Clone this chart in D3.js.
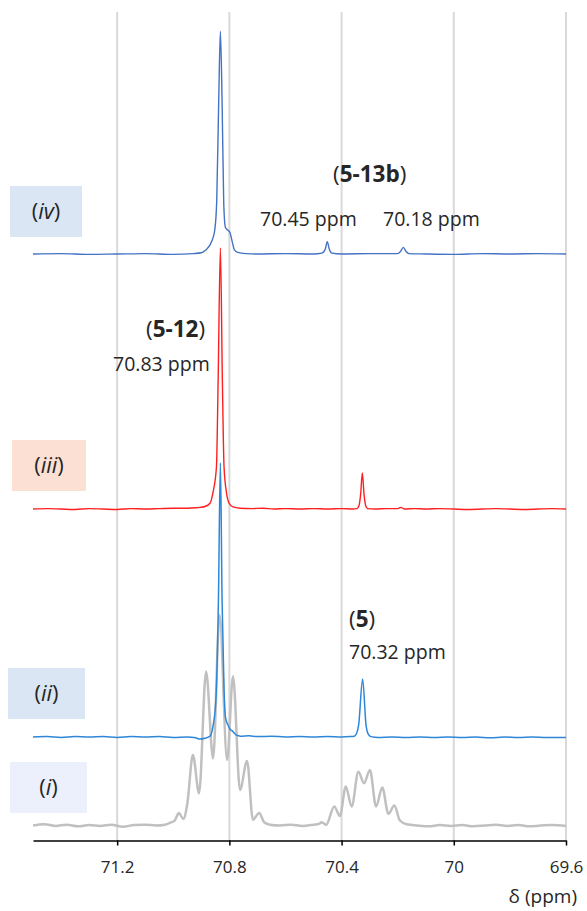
<!DOCTYPE html>
<html>
<head>
<meta charset="utf-8">
<script src="https://cdn.jsdelivr.net/npm/d3@7"></script>
<style>
  body { margin: 0; background: #fff; }
  text { font-family: "Open Sans", sans-serif; fill: #262626; }
</style>
</head>
<body>
<div id="chart"></div>
<script>
  // x axis ticks (ppm)
  const ticks = [71.2, 70.8, 70.4, 70, 69.6];

  // spectra: [ppm, intensity], intensity relative to own baseline
  const specI = [
    [71.50, 0.0], [71.46, 0.15], [71.42, -0.05], [71.38, 0.1], [71.34, -0.1], [71.30, 0.05],
    [71.26, -0.05], [71.22, 0.1], [71.18, -0.15], [71.14, 0.05], [71.10, 0.1], [71.06, 0.0],
    [71.03, 0.1], [71.01, 0.35], [70.995, 0.6], [70.98, 1.5], [70.964, 0.8], [70.95, 2.6],
    [70.93, 8.5], [70.908, 3.9], [70.883, 18.6], [70.858, 8.1], [70.835, 25.4], [70.808, 7.9],
    [70.787, 18.0], [70.762, 4.3], [70.737, 7.8], [70.716, 0.7], [70.694, 1.5], [70.676, 0.4],
    [70.655, 0.1], [70.62, 0.0], [70.58, 0.1], [70.54, -0.05], [70.50, 0.1], [70.48, 0.2],
    [70.471, 0.4], [70.455, 0.1], [70.426, 2.3], [70.406, 1.15], [70.385, 4.7], [70.364, 2.3],
    [70.340, 6.5], [70.320, 5.1], [70.299, 6.7], [70.277, 2.3], [70.255, 4.6], [70.233, 1.4],
    [70.212, 2.4], [70.192, 0.6], [70.168, 0.15], [70.13, 0.0], [70.09, -0.1], [70.05, 0.05],
    [70.01, -0.05], [69.97, 0.05], [69.93, -0.1], [69.89, 0.0], [69.85, 0.1], [69.81, -0.05],
    [69.77, 0.05], [69.73, -0.1], [69.69, 0.0], [69.65, 0.05], [69.60, -0.05]
  ];

  const specII = [
    [71.50, 0.0], [71.45, 0.05], [71.40, -0.05], [71.35, 0.05], [71.30, 0.0], [71.25, 0.05],
    [71.20, -0.05], [71.15, 0.05], [71.10, 0.0], [71.05, 0.05], [71.00, -0.05], [70.95, 0.0],
    [70.92, -0.1], [70.905, -0.25], [70.887, -0.15], [70.869, 0.1], [70.859, 1.2], [70.848, 4.5],
    [70.839, 16.5], [70.832, 33.1], [70.826, 16.5], [70.819, 5.7], [70.814, 2.4], [70.805, 1.45],
    [70.797, 0.9], [70.790, 0.75], [70.783, 0.5], [70.776, 0.25], [70.76, 0.1], [70.73, 0.15],
    [70.70, 0.05], [70.65, 0.1], [70.60, 0.0], [70.55, 0.05], [70.50, 0.0], [70.45, 0.05],
    [70.40, 0.0], [70.37, 0.05], [70.355, 0.1], [70.347, 0.4], [70.339, 1.5], [70.325, 7.0],
    [70.313, 1.5], [70.305, 0.35], [70.295, 0.05], [70.27, -0.05], [70.22, 0.0], [70.17, -0.05],
    [70.12, 0.0], [70.07, -0.05], [70.02, 0.0], [69.97, -0.05], [69.92, 0.0], [69.87, -0.1],
    [69.82, 0.0], [69.77, -0.05], [69.72, 0.0], [69.67, -0.05], [69.60, -0.05]
  ];

  const specIII = [
    [71.50, 0.0], [71.45, 0.05], [71.40, 0.0], [71.35, -0.05], [71.30, 0.05], [71.25, 0.0],
    [71.20, -0.05], [71.15, 0.05], [71.10, 0.0], [71.05, 0.05], [71.00, 0.1], [70.95, 0.1],
    [70.92, 0.15], [70.905, 0.2], [70.887, 0.3], [70.869, 0.7], [70.859, 1.9], [70.846, 5.1],
    [70.840, 15.6], [70.832, 31.5], [70.825, 15.6], [70.819, 5.1], [70.810, 1.9], [70.801, 0.7],
    [70.787, 0.25], [70.762, 0.1], [70.72, 0.05], [70.68, 0.1], [70.64, 0.0], [70.60, 0.05],
    [70.55, 0.0], [70.50, 0.05], [70.45, 0.0], [70.40, 0.05], [70.36, 0.0], [70.345, 0.05],
    [70.338, 0.4], [70.332, 1.8], [70.326, 4.35], [70.320, 1.8], [70.314, 0.4], [70.307, 0.05],
    [70.28, 0.0], [70.24, 0.05], [70.20, 0.05], [70.188, 0.2], [70.176, 0.0], [70.14, 0.05],
    [70.10, 0.0], [70.05, 0.05], [70.00, 0.0], [69.95, -0.05], [69.90, 0.0], [69.85, 0.05],
    [69.80, 0.0], [69.75, -0.05], [69.70, 0.0], [69.65, 0.05], [69.60, 0.0]
  ];

  const specIV = [
    [71.50, 0.0], [71.40, 0.05], [71.30, -0.05], [71.20, 0.0], [71.10, 0.05], [71.00, -0.05],
    [70.93, 0.05], [70.90, 0.15], [70.885, 0.45], [70.862, 1.6], [70.852, 2.9], [70.845, 6.5],
    [70.838, 18.5], [70.832, 26.9], [70.826, 18.5], [70.82, 6.0], [70.814, 3.2], [70.806, 2.9],
    [70.798, 2.6], [70.79, 1.5], [70.782, 0.5], [70.77, 0.2], [70.74, 0.05], [70.70, 0.0],
    [70.60, 0.05], [70.50, 0.0], [70.47, 0.1], [70.458, 0.6], [70.451, 1.5], [70.444, 0.6],
    [70.435, 0.1], [70.40, 0.0], [70.30, 0.05], [70.20, 0.05], [70.19, 0.3], [70.18, 0.8],
    [70.17, 0.3], [70.16, 0.05], [70.10, 0.0], [70.00, -0.05], [69.90, 0.05], [69.80, 0.0],
    [69.70, 0.05], [69.60, 0.0]
  ];

  // vertical stacking of the spectra (intensity units)
  const stackOffset = { i: 1.81, ii: 12.49, iii: 40.01, iv: 70.79 };

  const series = [
    { key: "i", data: specI, color: "#C0C0C0", width: 2.5 },
    { key: "iv", data: specIV, color: "#4472C4", width: 1.4 },
    { key: "iii", data: specIII, color: "#FF1F1F", width: 1.4 },
    { key: "ii", data: specII, color: "#2E86D8", width: 1.5 }
  ];

  const labelBoxes = [
    { key: "iv", fill: "#DAE6F4", x0: 10, x1: 82, dy: 42.5 },
    { key: "iii", fill: "#FCE0D3", x0: 12, x1: 86, dy: 43.5 },
    { key: "ii", fill: "#DAE6F4", x0: 8, x1: 85, dy: 43.5 },
    { key: "i", fill: "#EBF0FC", x0: 10, x1: 87, dy: 38 }
  ];

  const width = 587, height = 911;
  const x = d3.scaleLinear().domain([71.5, 69.6]).range([33, 566]);
  const y = d3.scaleLinear().domain([0, 100]).range([840.5, 12]);

  const svg = d3.select("#chart").append("svg")
    .attr("width", width)
    .attr("height", height);

  // gridlines
  svg.append("g")
    .selectAll("line")
    .data(ticks)
    .join("line")
      .attr("x1", d => x(d))
      .attr("x2", d => x(d))
      .attr("y1", y(100))
      .attr("y2", y(0))
      .attr("stroke", "#D9D9D9")
      .attr("stroke-width", 2);

  // spectra
  const line = d3.line()
    .curve(d3.curveMonotoneX)
    .x(d => x(d[0]));

  svg.append("g")
    .attr("fill", "none")
    .selectAll("path")
    .data(series)
    .join("path")
      .attr("d", s => line.y(d => y(d[1] + stackOffset[s.key]))(s.data.slice().reverse()))
      .attr("stroke", s => s.color)
      .attr("stroke-width", s => s.width)
      .attr("stroke-linejoin", "round");

  // x axis
  const axis = svg.append("g")
    .attr("transform", `translate(0,${y(0)})`)
    .call(d3.axisBottom(x).tickValues(ticks).tickSize(5).tickSizeOuter(0).tickFormat(d => String(d)));
  axis.select(".domain").attr("stroke", "#000").attr("stroke-width", 1.5);
  axis.selectAll(".tick line").attr("stroke", "#000").attr("stroke-width", 1.5);
  axis.selectAll(".tick text")
    .attr("y", 20)
    .attr("font-size", 17)
    .attr("font-family", "Open Sans, sans-serif")
    .attr("fill", "#262626");

  svg.append("text")
    .attr("x", 577)
    .attr("y", 903)
    .attr("text-anchor", "end")
    .attr("font-size", 19)
    .text("δ (ppm)");

  // spectrum labels
  const boxH = 51;
  const lb = svg.append("g")
    .selectAll("g")
    .data(labelBoxes)
    .join("g")
      .attr("transform", d => `translate(0,${y(stackOffset[d.key]) - d.dy})`);
  lb.append("rect")
    .attr("x", d => d.x0)
    .attr("y", -boxH / 2)
    .attr("width", d => d.x1 - d.x0)
    .attr("height", boxH)
    .attr("fill", d => d.fill);
  const lt = lb.append("text")
    .attr("x", d => (d.x0 + d.x1) / 2)
    .attr("y", 0)
    .attr("dy", "0.35em")
    .attr("text-anchor", "middle")
    .attr("font-size", 22);
  lt.append("tspan").text("(");
  lt.append("tspan").attr("font-style", "italic").text(d => d.key);
  lt.append("tspan").text(")");

  // compound annotations
  const compounds = [
    { name: "5-13b", x: 333, y: 182 },
    { name: "5-12", x: 146, y: 337 },
    { name: "5", x: 349, y: 627 }
  ];
  const shifts = [
    { text: "70.45 ppm", x: 260, y: 226 },
    { text: "70.18 ppm", x: 383, y: 226 },
    { text: "70.83 ppm", x: 113, y: 371 },
    { text: "70.32 ppm", x: 349, y: 659 }
  ];

  const ct = svg.append("g")
    .selectAll("text")
    .data(compounds)
    .join("text")
      .attr("x", d => d.x)
      .attr("y", d => d.y)
      .attr("font-size", 22.5);
  ct.append("tspan").text("(");
  ct.append("tspan").attr("font-weight", "bold").text(d => d.name);
  ct.append("tspan").text(")");

  svg.append("g")
    .selectAll("text")
    .data(shifts)
    .join("text")
      .attr("x", d => d.x)
      .attr("y", d => d.y)
      .attr("font-size", 19.5)
      .text(d => d.text);
</script>
</body>
</html>
